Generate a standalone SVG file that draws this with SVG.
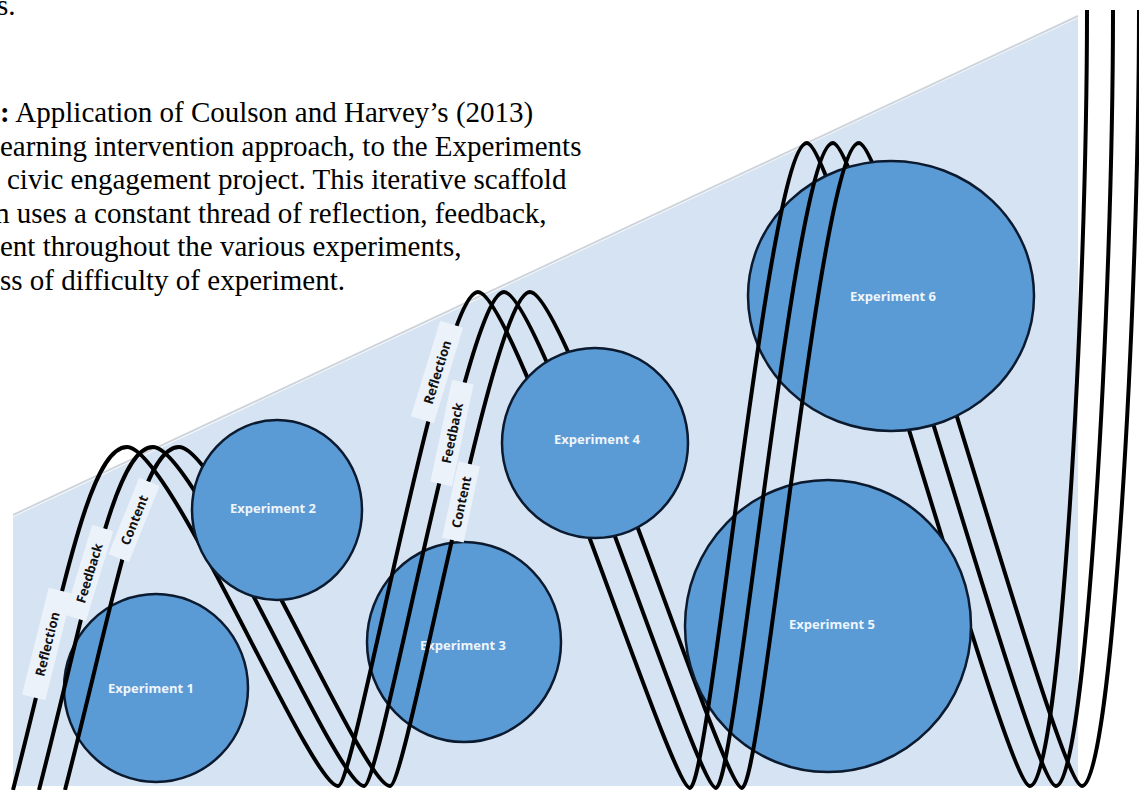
<svg xmlns="http://www.w3.org/2000/svg" width="1139" height="790" viewBox="0 0 1139 790">
<style>
.cap{font-family:"Liberation Serif","Times New Roman",serif;font-size:29px;fill:#000}
.bg{fill:#d5e3f3}
.node{fill:#5b9bd5;stroke:#0b1a2e;stroke-width:2.5}
.nl{font-family:"Open Sans","Liberation Sans",sans-serif;font-size:13px;font-weight:700;fill:#eef5fc;text-anchor:middle;dominant-baseline:central}
.th{fill:none;stroke:#000;stroke-width:4}
.lb{fill:#ecf2fa}
.lt{font-family:"Open Sans","Liberation Sans",sans-serif;font-size:13px;font-weight:700;fill:#111;text-anchor:middle;dominant-baseline:central}
</style>
<defs>
<g id="down">
<path d="M127,447 C170,447 310,786 338,786"/>
<path d="M478,292 C515,292 670,788 690,788"/>
<path d="M807,143 C835,143 1005,786 1030,786"/>
</g>
<g id="up">
<path d="M13,790 C62,600 88,447 127,447"/>
<path d="M338,786 C355,786 440,292 478,292"/>
<path d="M690,788 C710,788 768,143 807,143"/>
<path d="M1030,786 C1060,786 1087,300 1087,10"/>
</g>
</defs>
<rect width="1139" height="790" fill="#fff"/>
<polygon class="bg" points="13,517 1078,18 1078,786 13,786"/>
<line x1="13" y1="515" x2="1078" y2="16" stroke="#cfd5dc" stroke-width="2"/>
<g id="caption" class="cap">
<text x="-3" y="15">s.</text>
<text x="0" y="122"><tspan font-weight="700">:</tspan> Application of Coulson and Harvey’s (2013)</text>
<text x="0" y="155.5">earning intervention approach, to the Experiments</text>
<text x="7" y="189">civic engagement project. This iterative scaffold</text>
<text x="-5" y="222.5">n uses a constant thread of reflection, feedback,</text>
<text x="0" y="256">ent throughout the various experiments,</text>
<text x="0" y="290">ss of difficulty of experiment.</text>
</g>
<g id="connectors-back" class="th">
<use href="#down"/>
<use href="#down" x="26"/>
<use href="#down" x="52"/>
</g>
<g id="exp1"><ellipse class="node" cx="156" cy="688" rx="92" ry="94"/><text class="nl" x="151" y="688">Experiment 1</text></g>
<g id="exp2"><ellipse class="node" cx="277" cy="510" rx="85" ry="90"/><text class="nl" x="273" y="508">Experiment 2</text></g>
<g id="exp3"><ellipse class="node" cx="464" cy="642" rx="97" ry="100"/><text class="nl" x="463" y="645">Experiment 3</text></g>
<g id="exp4"><ellipse class="node" cx="595" cy="443" rx="93" ry="95"/><text class="nl" x="597" y="439">Experiment 4</text></g>
<g id="exp5"><ellipse class="node" cx="828" cy="626" rx="143" ry="146"/><text class="nl" x="832" y="624">Experiment 5</text></g>
<g id="exp6"><ellipse class="node" cx="891" cy="296" rx="143" ry="135"/><text class="nl" x="893" y="296">Experiment 6</text></g>
<g id="connectors-front" class="th">
<use href="#up"/>
<use href="#up" x="26"/>
<use href="#up" x="52"/>
</g>
<g id="thread-labels">
<g transform="translate(47,644) rotate(-76)"><rect class="lb" x="-55" y="-12" width="110" height="24"/><text class="lt" x="0" y="0">Reflection</text></g>
<g transform="translate(89,573) rotate(-73)"><rect class="lb" x="-47" y="-11" width="94" height="22"/><text class="lt" x="0" y="0">Feedback</text></g>
<g transform="translate(134,520) rotate(-68)"><rect class="lb" x="-41" y="-11" width="82" height="22"/><text class="lt" x="0" y="0">Content</text></g>
<g transform="translate(437,372) rotate(-73)"><rect class="lb" x="-50" y="-12" width="100" height="24"/><text class="lt" x="0" y="0">Reflection</text></g>
<g transform="translate(452,433) rotate(-78)"><rect class="lb" x="-52" y="-11" width="104" height="22"/><text class="lt" x="0" y="0">Feedback</text></g>
<g transform="translate(461,502) rotate(-78)"><rect class="lb" x="-39" y="-11" width="78" height="22"/><text class="lt" x="0" y="0">Content</text></g>
</g>
</svg>
